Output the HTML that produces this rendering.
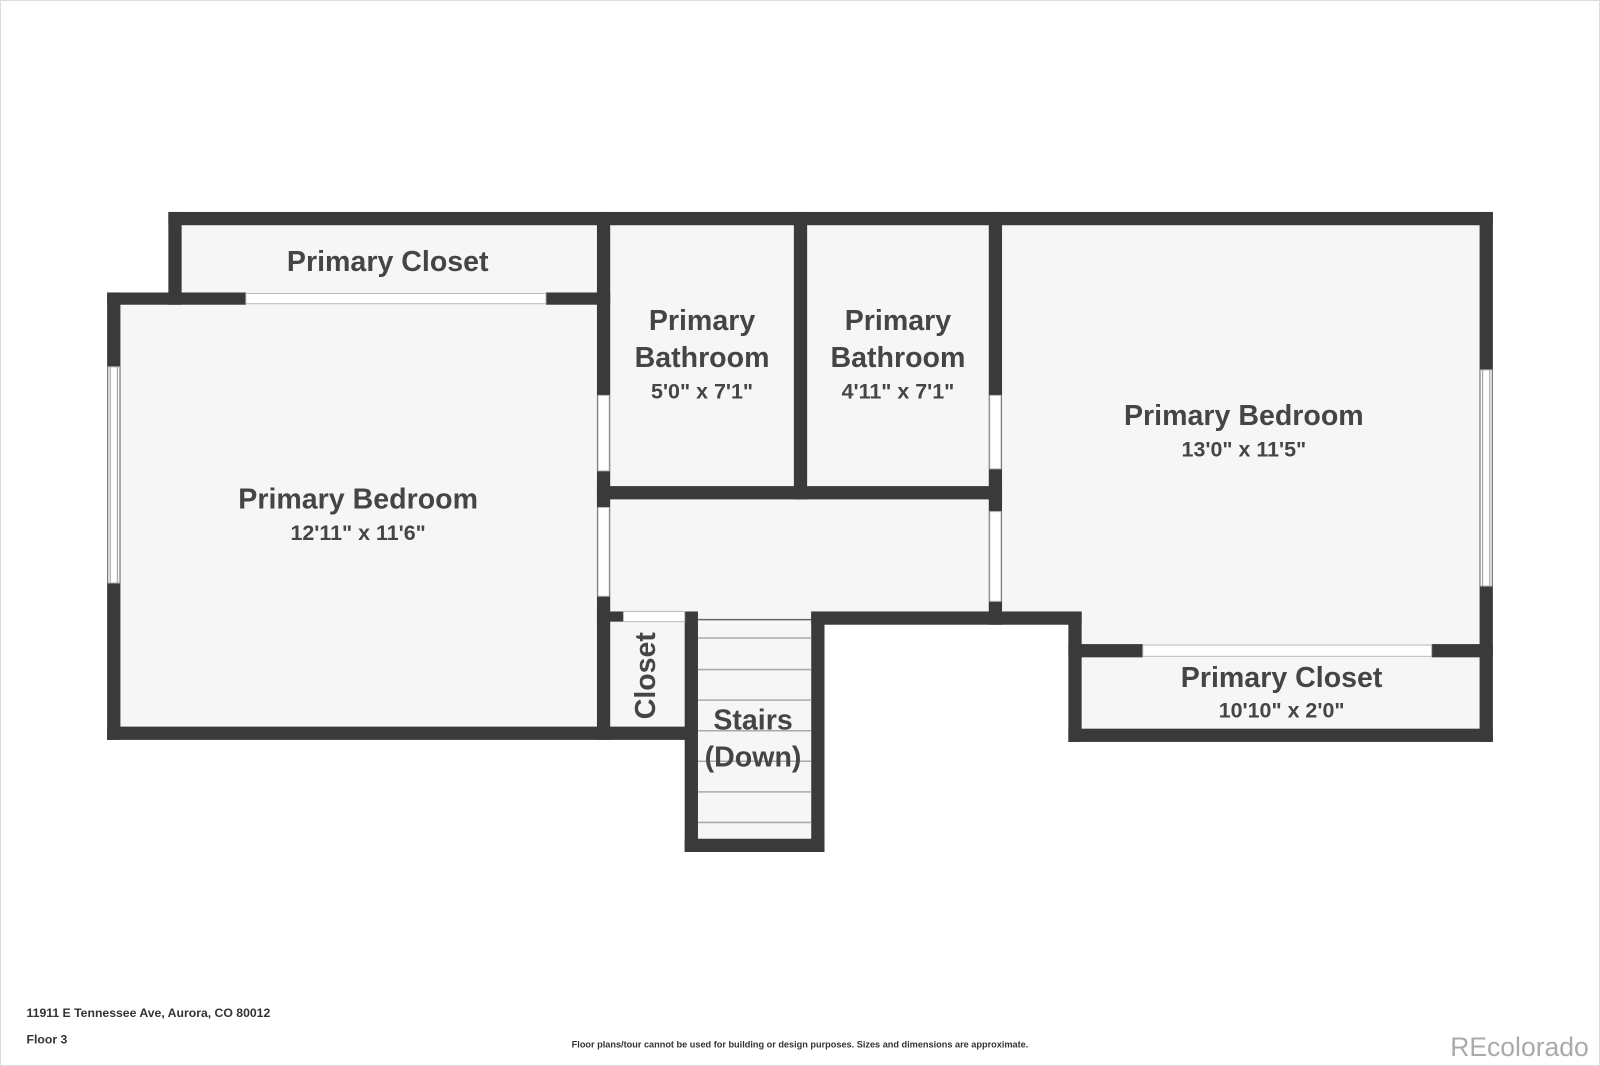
<!DOCTYPE html>
<html><head><meta charset="utf-8"><style>
html,body{margin:0;padding:0;background:#fff;width:1600px;height:1066px;overflow:hidden}
svg{display:block}
text{font-family:"Liberation Sans",Arial,sans-serif;fill:#454545;font-weight:bold;text-anchor:middle}
</style></head><body>
<svg width="1600" height="1066" viewBox="0 0 1568 1046" preserveAspectRatio="none">
<rect x="0" y="0" width="1568" height="1046" fill="#fff"/>
<g fill="#f6f6f6">
<rect x="165" y="208" width="433" height="91"/>
<rect x="105" y="287" width="493" height="439"/>
<rect x="585" y="208" width="397" height="405"/>
<rect x="585" y="600" width="100" height="126"/>
<rect x="671" y="600" width="137" height="236"/>
<rect x="969" y="208" width="494" height="405"/>
<rect x="1047" y="600" width="416" height="128"/>
</g>
<g fill="#3a3a3a">
<rect x="165" y="208" width="1298" height="13"/>
<rect x="165" y="208" width="13" height="91"/>
<rect x="105" y="287" width="136" height="12"/>
<rect x="535" y="287" width="63" height="12"/>
<rect x="105" y="287" width="13" height="439"/>
<rect x="105" y="713" width="578" height="13"/>
<rect x="585" y="208" width="13" height="518"/>
<rect x="778" y="208" width="13" height="282"/>
<rect x="969" y="208" width="13" height="405"/>
<rect x="585" y="477" width="397" height="13"/>
<rect x="585" y="600" width="26" height="10"/>
<rect x="671" y="600" width="13" height="236"/>
<rect x="795" y="600" width="13" height="236"/>
<rect x="671" y="823" width="137" height="13"/>
<rect x="795" y="600" width="265" height="13"/>
<rect x="1047" y="600" width="13" height="128"/>
<rect x="1047" y="632" width="73" height="13"/>
<rect x="1403" y="632" width="60" height="13"/>
<rect x="1047" y="715" width="416" height="13"/>
<rect x="1450" y="208" width="13" height="520"/>
</g>
<g fill="#fff" stroke="#bbb" stroke-width="1">
<rect x="241" y="288" width="294" height="10"/>
<rect x="106" y="360" width="11" height="212"/>
<rect x="1451" y="363" width="11" height="212"/>
<rect x="1120" y="633" width="283" height="11"/>
<rect x="586" y="388" width="11" height="74"/>
<rect x="586" y="498" width="11" height="87"/>
<rect x="970" y="388" width="11" height="72"/>
<rect x="970" y="502" width="11" height="88"/>
<rect x="611" y="600" width="60" height="10"/>
</g>
<g stroke="#999" stroke-width="1">
<line x1="108" y1="360" x2="108" y2="572"/><line x1="115" y1="360" x2="115" y2="572"/>
<line x1="1453" y1="363" x2="1453" y2="575"/><line x1="1460" y1="363" x2="1460" y2="575"/>
</g>
<g stroke="#aaa" stroke-width="1.5">
<line x1="684" y1="608" x2="795" y2="608" stroke="#666"/>
<line x1="684" y1="626" x2="795" y2="626"/>
<line x1="684" y1="657" x2="795" y2="657"/>
<line x1="684" y1="687" x2="795" y2="687"/>
<line x1="684" y1="717" x2="795" y2="717"/>
<line x1="684" y1="747" x2="795" y2="747"/>
<line x1="684" y1="777" x2="795" y2="777"/>
<line x1="684" y1="807" x2="795" y2="807"/>
</g>
<g font-size="28">
<text x="380" y="266">Primary Closet</text>
<text x="351" y="499">Primary Bedroom</text>
<text x="688" y="324">Primary</text>
<text x="688" y="360">Bathroom</text>
<text x="880" y="324">Primary</text>
<text x="880" y="360">Bathroom</text>
<text x="1219" y="417">Primary Bedroom</text>
<text x="1256" y="674">Primary Closet</text>
<text x="738" y="716">Stairs</text>
<text x="738" y="752">(Down)</text>
<text transform="translate(642,663) rotate(-90)">Closet</text>
</g>
<g font-size="21">
<text x="351" y="530">12'11" x 11'6"</text>
<text x="688" y="391">5'0" x 7'1"</text>
<text x="880" y="391">4'11" x 7'1"</text>
<text x="1219" y="448">13'0" x 11'5"</text>
<text x="1256" y="704">10'10" x 2'0"</text>
</g>
<text x="26" y="998" font-size="12" style="text-anchor:start;fill:#333">11911 E Tennessee Ave, Aurora, CO 80012</text>
<text x="26" y="1024" font-size="12" style="text-anchor:start;fill:#333">Floor 3</text>
<text x="784" y="1028" font-size="9" style="fill:#333">Floor plans/tour cannot be used for building or design purposes. Sizes and dimensions are approximate.</text>
<text x="1557" y="1036" font-size="26" style="text-anchor:end;fill:#aaa;font-weight:normal">REcolorado</text>
<rect x="0.5" y="0.5" width="1567" height="1045" fill="none" stroke="#ddd"/>
</svg>
</body></html>
